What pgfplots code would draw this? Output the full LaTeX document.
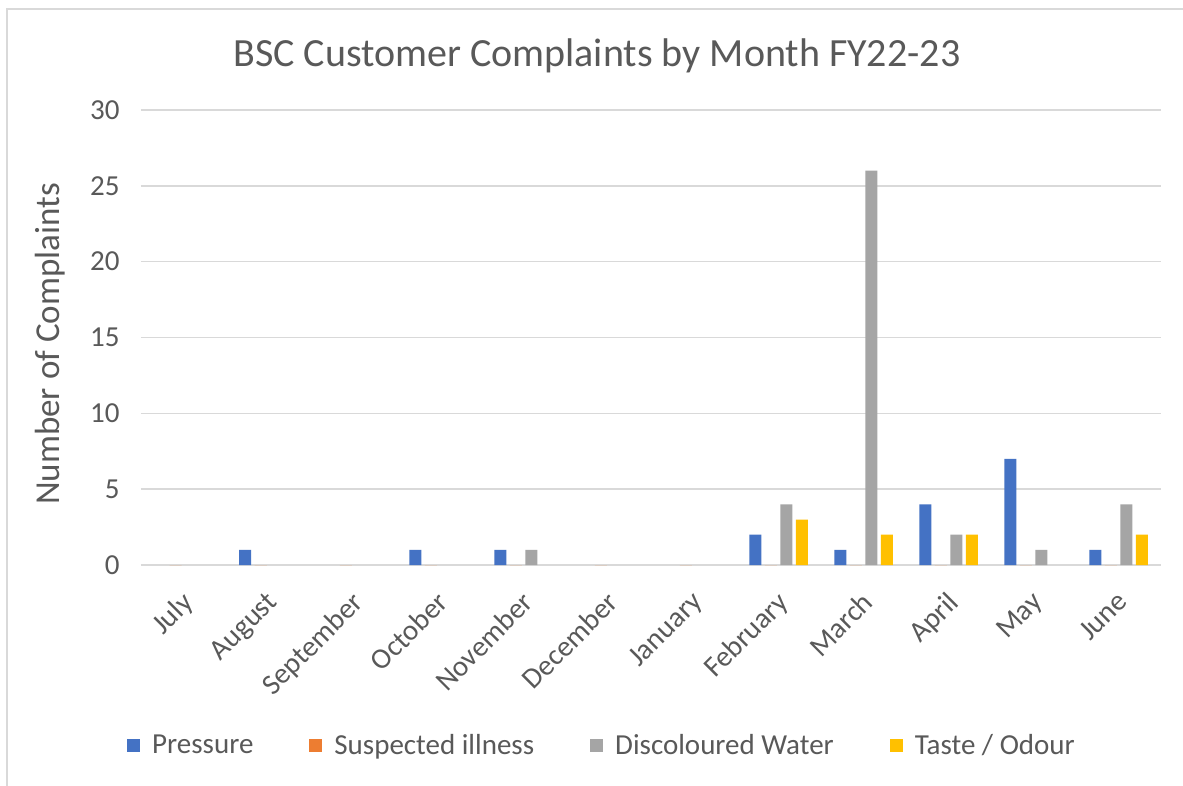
\documentclass[border=0pt]{standalone}
\usepackage{pgfplots}
\pgfplotsset{compat=1.18}
\usepackage{fontspec}
\setmainfont{Carlito}
\definecolor{txt}{HTML}{595959}
\definecolor{gridc}{HTML}{D9D9D9}
\definecolor{cPres}{HTML}{4472C4}
\definecolor{cIll}{HTML}{ED7D31}
\definecolor{cDis}{HTML}{A5A5A5}
\definecolor{cTas}{HTML}{FFC000}
\pgfplotsset{sqlegend/.style={legend image code/.code={\fill[##1] (0pt,-6.5pt) rectangle (13pt,6.5pt);}}}
\begin{document}
\begin{tikzpicture}[x=1pt,y=1pt]
\path[use as bounding box, fill=white] (0,0) rectangle (1183,785);
\draw[gridc, line width=2pt] (7,-10) -- (7,776) -- (1200,776);
\begin{axis}[
  at={(141pt,220pt)}, anchor=south west,
  scale only axis, width=1020pt, height=455pt,
  xmin=-0.5, xmax=11.5, ymin=0, ymax=30,
  ytick={0,5,...,30},
  xtick={0,...,11},
  xticklabels={July,August,September,October,November,December,January,February,March,April,May,June},
  axis line style={draw=none},
  major tick length=0pt,
  ymajorgrids, grid style={gridc, line width=1.5pt},
  tick label style={font=\fontsize{29pt}{31pt}\selectfont, text=txt},
  /pgf/number format/assume math mode=true,
  yticklabel style={xshift=-18pt},
  xticklabel style={xshift=-3pt, yshift=-25pt, rotate=45, anchor=north east, inner sep=0pt},
  ybar, bar width=12pt,
  title={BSC Customer Complaints by Month FY22-23},
  title style={at={(0.447,1.106)}, anchor=center, font=\fontsize{40pt}{43pt}\selectfont, text=txt},
  ylabel={Number of Complaints},
  ylabel style={at={(-0.0892,0.4857)}, anchor=center, rotate=0, font=\fontsize{35pt}{38pt}\selectfont, text=txt},
  legend columns=4,
  legend style={at={(0.452,-0.3956)}, anchor=center, draw=none, fill=none,
    font=\fontsize{29pt}{31pt}\selectfont, text=txt,
    /tikz/every even column/.append style={column sep=54pt},
    /tikz/every odd column/.append style={column sep=10pt}},
]
\addplot[sqlegend, fill=cPres, draw=none, bar shift=-23.25pt] coordinates {(1,1) (3,1) (4,1) (7,2) (8,1) (9,4) (10,7) (11,1)};
\addplot[sqlegend, fill=cIll, draw=none, bar shift=-7.75pt] coordinates {(0,0) (1,0) (2,0) (3,0) (4,0) (5,0) (6,0) (7,0) (8,0) (9,0) (10,0) (11,0)};
\addplot[sqlegend, fill=cDis, draw=none, bar shift=7.75pt] coordinates {(4,1) (7,4) (8,26) (9,2) (10,1) (11,4)};
\addplot[sqlegend, fill=cTas, draw=none, bar shift=23.25pt] coordinates {(7,3) (8,2) (9,2) (11,2)};
\legend{Pressure, Suspected illness, Discoloured Water, Taste / Odour}
\end{axis}
\end{tikzpicture}
\end{document}
